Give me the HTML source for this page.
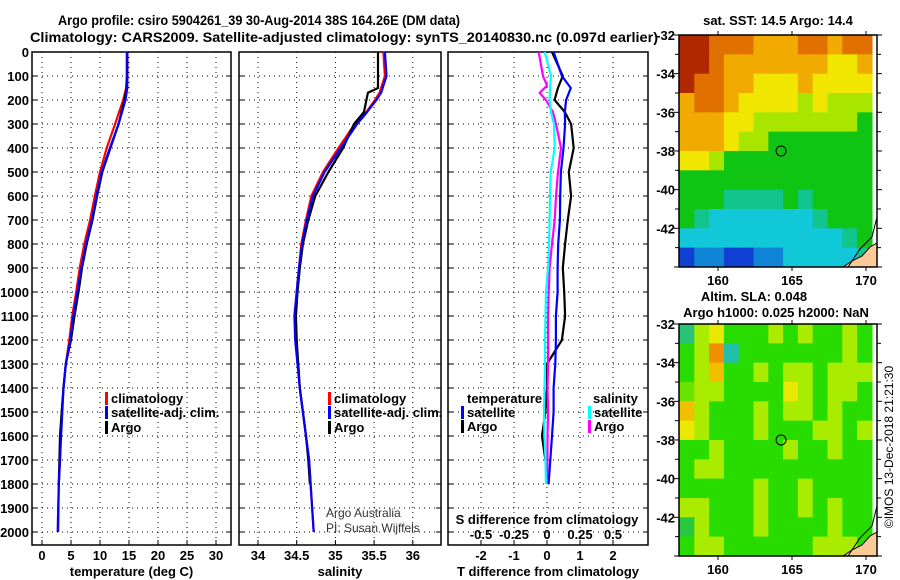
<!DOCTYPE html>
<html><head><meta charset="utf-8"><style>
body{margin:0;background:#fff}
svg{display:block;font-family:"Liberation Sans",sans-serif}
.b{font-weight:bold;font-size:13px}
</style></head><body>
<svg id="s" width="900" height="580" viewBox="0 0 900 580" xmlns="http://www.w3.org/2000/svg">
<rect width="900" height="580" fill="#fff"/>
<text x="259" y="25" text-anchor="middle" style="font-weight:bold;font-size:14px" textLength="402" lengthAdjust="spacingAndGlyphs">Argo profile: csiro 5904261_39 30-Aug-2014 38S 164.26E (DM data)</text>
<text x="344" y="42" text-anchor="middle" style="font-weight:bold;font-size:14px" textLength="628" lengthAdjust="spacingAndGlyphs">Climatology: CARS2009. Satellite-adjusted climatology: synTS_20140830.nc (0.097d earlier)</text>
<g id="g"></g>
</svg>
<script>
// ---- data ----
const tDepth=[0,100,150,200,300,400,500,600,700,800,900,1000,1100,1200,1300,1400,1500,1600,1700,1800,1900,2000];
const tClim=[14.6,14.6,14.5,14.0,12.6,11.15,10.0,9.1,8.3,7.3,6.5,5.9,5.2,4.7,4.1,3.7,3.4,3.2,3.1,2.9,2.85,2.8];
const tSat=[14.7,14.7,14.7,14.4,13.2,11.7,10.3,9.4,8.6,7.6,6.8,6.1,5.4,4.9,4.1,3.7,3.5,3.3,3.1,2.9,2.8,2.7];
const argoDepth=[0,100,150,200,300,400,500,600,700,800,900,1000,1100,1200,1300,1400,1500,1600,1700,1800];
const tArgo=[14.7,14.7,14.6,14.2,13.2,11.8,10.4,9.5,8.7,7.7,6.9,6.3,5.6,5.0,4.1,3.7,3.4,3.1,3.0,2.9];
const sDepth=[0,100,170,200,250,300,400,500,600,700,800,900,1000,1100,1200,1300,1400,1500,1600,1700,1800,2000];
const sClim=[35.62,35.64,35.57,35.51,35.40,35.25,35.04,34.84,34.69,34.62,34.56,34.53,34.50,34.48,34.49,34.52,34.54,34.58,34.62,34.66,34.68,34.72];
const sSat=[35.64,35.66,35.59,35.53,35.41,35.28,35.07,34.86,34.71,34.63,34.57,34.53,34.50,34.47,34.48,34.51,34.54,34.58,34.62,34.66,34.68,34.72];
const argoSDepth=[0,100,150,170,200,250,300,400,500,600,700,800,900,1000,1100,1200,1300,1400,1500,1600,1700,1800];
const sArgo=[35.55,35.55,35.55,35.42,35.40,35.37,35.24,35.10,34.91,34.74,34.65,34.58,34.54,34.51,34.49,34.50,34.52,34.54,34.58,34.62,34.65,34.67];
const dDepth=[0,100,150,200,250,300,400,500,600,700,800,900,1000,1100,1200,1300,1400,1500,1600,1700,1800];
const dTArgo=[0.15,0.48,0.33,0.23,0.54,0.73,0.81,0.66,0.73,0.63,0.55,0.48,0.52,0.55,0.45,0.0,0.0,-0.05,-0.15,-0.05,0.05];
const dTSat=[0.2,0.45,0.72,0.58,0.54,0.55,0.5,0.42,0.4,0.39,0.34,0.32,0.32,0.27,0.27,0.25,0.2,0.2,0.15,0.1,0.05];
const dSDepth=[0,100,140,170,200,250,300,400,500,600,700,800,900,1000,1100,1200,1300,1400,1500,1600,1700,1800];
const dSArgo=[-0.063,-0.03,0,-0.055,-0.008,0.045,0.068,0.106,0.083,0.068,0.058,0.038,0.02,0.013,0.008,0.008,0.008,0.004,0.008,0.004,0.004,0];
const dSSat=[-0.017,0.03,0.023,0.02,0.03,0.053,0.058,0.028,0.023,0.02,0.015,0.008,-0.008,-0.011,-0.015,-0.015,-0.019,-0.023,-0.019,-0.011,-0.008];
const depthTicks=[0,100,200,300,400,500,600,700,800,900,1000,1100,1200,1300,1400,1500,1600,1700,1800,1900,2000];
const tTicks=[0,5,10,15,20,25,30];
const sTicks=[34,34.5,35,35.5,36];
const sTickLabels=["34","34.5","35","35.5","36"];
const dTTicks=[-2,-1,0,1,2];
const dSTicks=[-0.5,-0.25,0,0.25,0.5];
const dSTickLabels=["-0.5","-0.25","0","0.25","0.5"];
const sstGrid=[
[7,7,6,6,6,5,5,5,6,6,5,6,6],
[7,7,6,5,5,5,5,5,5,5,4,4,5],
[7,6,6,5,5,4,4,4,5,4,4,4,4],
[5,6,6,5,4,4,4,4,3,4,3,3,3],
[5,5,5,4,4,3,3,3,3,3,3,3,2],
[5,5,5,4,3,3,2,2,2,2,2,2,2],
[4,4,3,2,2,2,2,2,2,2,2,2,2],
[2,2,2,2,2,2,2,2,2,2,2,2,2],
[2,2,2,1.5,1.5,1.5,1.5,2,1.5,2,2,2,2],
[2,1.5,1,1,1,1,1,1,1,1.5,2,2,2],
[1,1,1,1,1,1,1,1,1,1,1,1.5,2],
[0,0.5,0.5,0,0,0.5,0.5,1,1,1,1,1,1.5]];
const slaGrid=[
[1.5,3,4,2,2,2,3,2,3,2,2,3,2],
[2,3,5,1.2,2,2,2,2,2,2,2,3,2],
[2,3,4.5,2,2,3,2,3,3,2,3,3,3],
[2.5,3,3,2,2,2,2,4,3,2,3,3,2],
[4.5,3,2,2,2,3,2,3,3,2,3,2,2],
[4,3,2,2,2,3,2,2,2,3,3,2,3],
[2,2,3,2,2,2,2,3,2,2,3,2,2],
[2,3,3,2,2,2,2,2,2,2,2,2,2],
[2,2,2,2,2,3,2,2,3,2,2,2,2],
[3,3,2,2,2,3,2,2,3,2,3,2,2],
[1.8,3,2,2,2,3,2,2,2,2,3,2,2],
[2,3,3,2,2,2,2,2,2,3,3,3,2]];
const latTicks=[-32,-34,-36,-38,-40,-42];
const lonTicks=[160,165,170];
const argoLon=164.26, argoLat=-38;

// ---- helpers ----
const NS="http://www.w3.org/2000/svg", G=document.getElementById('g');
function mk(tag,at,txt){const e=document.createElementNS(NS,tag);for(const k in at)e.setAttribute(k,at[k]);if(txt!==undefined)e.textContent=txt;G.appendChild(e);return e;}
const yD=d=>52+d*0.24;
const pTop=52,pBot=545;
const panels=[
 {x0:32,x1:231,fx:v=>42+v*5.8,ticks:tTicks,labels:tTicks.map(String),title:"temperature (deg C)",name:"temperature"},
 {x0:239,x1:441,fx:v=>258+(v-34)*77.4,ticks:sTicks,labels:sTickLabels,title:"salinity",name:"salinity"},
 {x0:448,x1:648,fx:v=>547+v*33,ticks:dTTicks,labels:dTTicks.map(String),title:"T difference from climatology",name:"difference"}];
const fS3=v=>547+v*132;
panels.forEach((p,i)=>{
  depthTicks.forEach(d=>{const l=mk('line',{x1:p.x0,x2:p.x1,y1:yD(d),y2:yD(d),stroke:'#000','stroke-dasharray':'1 4','stroke-width':1});
    
    const t1=mk('line',{x1:p.x0,x2:p.x0+5,y1:yD(d),y2:yD(d),stroke:'#000'});
    const t2=mk('line',{x1:p.x1-5,x2:p.x1,y1:yD(d),y2:yD(d),stroke:'#000'});
    if(i===0){const t=mk('text',{x:29,y:yD(d)+5,'text-anchor':'end',class:'b'},String(d));}
  });
  p.ticks.forEach((v,j)=>{const x=p.fx(v);
    const l=mk('line',{x1:x,x2:x,y1:pTop,y2:pBot,stroke:'#000','stroke-dasharray':'1 4'});
    const a=mk('line',{x1:x,x2:x,y1:pBot-5,y2:pBot,stroke:'#000'});
    const t=mk('text',{x:x,y:560,'text-anchor':'middle',class:'b'},p.labels[j]);
  });
  const r=mk('rect',{x:p.x0,y:pTop,width:p.x1-p.x0,height:pBot-pTop,fill:'none',stroke:'#000','stroke-width':1.5});
  
  const tt=mk('text',{x:(p.x0+p.x1)/2,y:576,'text-anchor':'middle',class:'b'},p.title);
  
});
function line(depths,vals,fx,color,name){
  const pts=depths.map((d,i)=>fx(vals[i]).toFixed(1)+','+yD(d).toFixed(1)).join(' ');
  const e=mk('polyline',{points:pts,fill:'none',stroke:color,'stroke-width':2.2,'stroke-linejoin':'round'});
  }
const P=panels;
line(tDepth,tClim,P[0].fx,'#f00','temp-climatology-line');
line(argoDepth,tArgo,P[0].fx,'#000','temp-argo-line');
line(tDepth,tSat,P[0].fx,'#00f','temp-satellite-line');
line(sDepth,sClim,P[1].fx,'#f00','sal-climatology-line');
line(argoSDepth,sArgo,P[1].fx,'#000','sal-argo-line');
line(sDepth,sSat,P[1].fx,'#00f','sal-satellite-line');
line(dDepth,dTArgo,P[2].fx,'#000','tdiff-argo-line');
line(dDepth,dTSat,P[2].fx,'#00f','tdiff-satellite-line');
line(dSDepth,dSArgo,fS3,'#f0f','sdiff-argo-line');
line(dDepth,dSSat,fS3,'#0ff','sdiff-satellite-line');
dSTicks.forEach((v,j)=>{const t=mk('text',{x:fS3(v),y:539,'text-anchor':'middle',class:'b'},dSTickLabels[j]);});
{const t=mk('text',{x:547,y:524,'text-anchor':'middle',class:'b'},'S difference from climatology');}
function leg(x,y,color,label,name){
  if(color){const r=mk('rect',{x:x-6,y:y-11,width:3,height:13,fill:color});}
  const t=mk('text',{x:x,y:y,class:'b'},label);}
leg(111,403,'#f00','climatology','legend-climatology');
leg(111,417,'#00f','satellite-adj. clim.','legend-satellite');
leg(111,432,'#000','Argo','legend-argo');
leg(334,403,'#f00','climatology','legend-climatology-sal');
leg(334,417,'#00f','satellite-adj. clim.','legend-satellite-sal');
leg(334,432,'#000','Argo','legend-argo-sal');
leg(467,403,null,'temperature','legend-temperature-heading');
leg(467,417,'#00f','satellite','legend-t-satellite');
leg(467,431,'#000','Argo','legend-t-argo');
leg(593,403,null,'salinity','legend-salinity-heading');
leg(594,417,'#0ff','satellite','legend-s-satellite');
leg(594,431,'#f0f','Argo','legend-s-argo');
{const a=mk('text',{x:326,y:517,'font-size':12,fill:'#333'},'Argo Australia');
 const b=mk('text',{x:326,y:532,'font-size':12,fill:'#333'},'PI: Susan Wijffels');}
// ---- maps ----
const mx0=679,mx1=877;
const lonX=l=>718+(l-160)*14.8;
function cmap(v,stops){for(let i=1;i<stops.length;i++){if(v<=stops[i][0]){const a=stops[i-1],b=stops[i],t=(v-a[0])/(b[0]-a[0]);
  const c=a[1].map((x,k)=>Math.round(x+(b[1][k]-x)*t));return 'rgb('+c.join(',')+')';}}return 'rgb('+stops[stops.length-1][1].join(',')+')';}
const sstStops=[[0,[16,64,210]],[1,[16,200,216]],[1.5,[16,196,140]],[2,[16,196,20]],[3,[168,230,0]],[4,[240,230,0]],[5,[240,170,0]],[6,[224,112,0]],[7,[176,40,0]]];
const slaStops=[[1.2,[32,192,170]],[1.5,[40,196,120]],[1.8,[40,200,64]],[2,[40,220,0]],[3,[170,236,0]],[4,[232,232,0]],[4.5,[240,192,0]],[5,[240,144,0]]];
function drawMap(y0,grid,stops,nm){
  const y1=y0+232, latY=l=>y0+(-32-l)*19.33;
  const cp=mk('clipPath',{id:'cp'+nm});const cr=document.createElementNS(NS,'rect');
  cr.setAttribute('x',mx0);cr.setAttribute('y',y0);cr.setAttribute('width',mx1-mx0);cr.setAttribute('height',232);cp.appendChild(cr);
  const gg=mk('g',{'clip-path':'url(#cp'+nm+')'});
  grid.forEach((row,r)=>row.forEach((v,c)=>{const e=document.createElementNS(NS,'rect');
    const lon=157.4+c, lat=-32-r;
    e.setAttribute('x',lonX(lon));e.setAttribute('y',latY(lat));e.setAttribute('width',15.4);e.setAttribute('height',19.9);
    e.setAttribute('fill',cmap(v,stops));
    
    
    gg.appendChild(e);}));
  const land=mk('polygon',{points:`843,${y1} 852,${y1-6} 862,${y1-11} 870,${y1-20} 877,${y1-24} 877,${y1}`,fill:'#fcc998',stroke:'#000','stroke-width':1});
  
  const cl=mk('polyline',{points:`848,${y1} 860,${y1-18} 872,${y1-30} 877,${y1-50}`,fill:'none',stroke:'#000','stroke-width':1});
  
  for(let l=-32;l>=-44;l--){const y=latY(l);const len=l%2===0?5:4;
    const a=mk('line',{x1:mx0-len,x2:mx0,y1:y,y2:y,stroke:'#000'});
    const b=mk('line',{x1:mx1,x2:mx1+len,y1:y,y2:y,stroke:'#000'});}
  latTicks.forEach(l=>{const t=mk('text',{x:675,y:latY(l)+5,'text-anchor':'end',class:'b'},String(l));});
  lonTicks.forEach(l=>{const x=lonX(l);
    const a=mk('line',{x1:x,x2:x,y1:y0-4,y2:y0,stroke:'#000'});
    const b=mk('line',{x1:x,x2:x,y1:y1,y2:y1+4,stroke:'#000'});
    const t=mk('text',{x:x,y:y1+18,'text-anchor':'middle',class:'b'},String(l));});
  const c=mk('circle',{cx:lonX(argoLon),cy:latY(argoLat),r:5,fill:'none',stroke:'#000','stroke-width':1});
  
  const f=mk('rect',{x:mx0,y:y0,width:mx1-mx0,height:232,fill:'none',stroke:'#000','stroke-width':1.5});
  
}
drawMap(35,sstGrid,sstStops,'sst-map');
drawMap(324,slaGrid,slaStops,'sla-map');
{const t=mk('text',{x:778,y:25,'text-anchor':'middle',class:'b'},'sat. SST: 14.5 Argo: 14.4');
 const a=mk('text',{x:754,y:301,'text-anchor':'middle',class:'b'},'Altim. SLA: 0.048');
 const b=mk('text',{x:776,y:317,'text-anchor':'middle',class:'b'},'Argo h1000: 0.025 h2000: NaN');
 const r=mk('text',{x:0,y:0,'font-size':12,'text-anchor':'middle',transform:'translate(893,447) rotate(-90)'},'©IMOS 13-Dec-2018 21:21:30');}
</script>
</body></html>
